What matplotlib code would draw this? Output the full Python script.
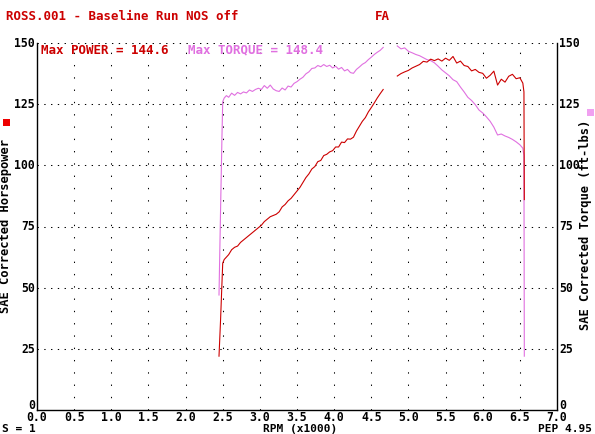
import numpy as np
import matplotlib
matplotlib.use("Agg")
import matplotlib.pyplot as plt
from matplotlib.patches import Rectangle
from matplotlib.transforms import ScaledTranslation

# ---- data (RPM x1000) ----
rpm_a = [2.45, 2.47, 2.49, 2.50, 2.52, 2.55, 2.58, 2.62, 2.66, 2.70, 2.74, 2.78, 2.82, 2.86,
         2.90, 2.94, 2.98, 3.02, 3.06, 3.10, 3.14, 3.18, 3.22, 3.26, 3.30, 3.34, 3.38, 3.42,
         3.46, 3.50, 3.54, 3.58, 3.62, 3.66, 3.70, 3.74, 3.78, 3.82, 3.86, 3.90, 3.94, 3.98,
         4.02, 4.06, 4.10, 4.14, 4.18, 4.22, 4.26, 4.30, 4.34, 4.38, 4.42, 4.46, 4.50, 4.54,
         4.58, 4.62, 4.66]
torque_a = [47, 80, 112, 126, 127.5, 128.5, 127.8, 129.5, 128.6, 129.8, 129.2, 130.0, 129.6, 130.8,
            130.2, 131.0, 131.5, 131.0, 132.6, 131.5, 132.8, 131.2, 130.5, 130.2, 131.6, 130.8, 132.4, 132.0,
            133.5, 134.2, 135.2, 136.0, 137.4, 138.2, 139.6, 139.8, 140.8, 140.3, 141.2, 140.4, 140.9, 139.8,
            140.5, 139.3, 140.0, 138.6, 139.2, 137.9, 137.6, 139.2, 140.2, 141.3, 142.0, 143.2, 144.2, 145.3,
            146.2, 147.0, 148.2]
power_a = [22, 36, 52, 60, 61.5, 62.5, 63.5, 65.5, 66.5, 67, 68.5, 69.5, 70.5, 71.5,
           72.5, 73.5, 74.5, 75.5, 77, 78, 79, 79.5, 80.0, 81, 83, 84, 85.5, 86.5,
           88, 89.5, 91, 93, 95, 96.5, 98.5, 99.5, 101.5, 102, 104, 104.5, 105.5, 106,
           107.5, 107.5, 109.5, 109.3, 110.8, 110.7, 111.5, 114, 116, 118, 119.5, 121.8, 123.6, 125.5,
           127.5, 129.3, 131]

rpm_b = [4.85, 4.90, 4.95, 5.00, 5.05, 5.10, 5.15, 5.20, 5.25, 5.30, 5.35, 5.40, 5.45, 5.50,
         5.55, 5.60, 5.65, 5.70, 5.75, 5.80, 5.85, 5.90, 5.95, 6.00, 6.05, 6.10, 6.15, 6.20,
         6.25, 6.30, 6.35, 6.40, 6.45, 6.50, 6.54, 6.555, 6.56]
torque_b = [148.8, 147.6, 148.0, 146.6, 146.0, 145.3, 144.8, 144.0, 143.2, 142.8, 141.9, 140.5, 139.0, 137.8,
            136.6, 135.0, 134.2, 132.0, 130.0, 127.8, 126.5, 124.8, 122.6, 121.4, 119.8, 118.0, 115.6, 112.4,
            112.8, 112.0, 111.4, 110.6, 109.6, 108.4, 107.0, 104, 22]
power_b = [136.5, 137.5, 138.2, 138.8, 139.8, 140.5, 141.2, 142.5, 142.2, 143.4, 142.8, 143.5, 142.6, 143.8,
           142.9, 144.5, 141.8, 142.6, 140.8, 140.4, 138.6, 139.2, 138.0, 137.6, 135.6, 136.8, 138.5, 132.8,
           135.2, 134.0, 136.4, 137.2, 135.4, 135.8, 133.6, 130, 86]

x_ticks = [0.0, 0.5, 1.0, 1.5, 2.0, 2.5, 3.0, 3.5, 4.0, 4.5, 5.0, 5.5, 6.0, 6.5, 7.0]
y_ticks = [0, 25, 50, 75, 100, 125, 150]

RED = "#cc0000"
PINK = "#e070e0"
FONT = "DejaVu Sans Mono"
FS = 8.7
TFS = 8.3
BFS = 8.0

fig = plt.figure(figsize=(5.95, 4.35), dpi=100)
ax = fig.add_axes([37/595, 1-411/435, (557-37)/595, (411-44)/435])
ax.set_xlim(0, 7)
ax.set_ylim(0, 150)

# grid
for y in y_ticks[1:]:
    ax.plot([0, 7], [y, y], color="black", lw=0.75, ls=(0, (1.3, 5.2)), zorder=1)
for x in x_ticks[1:-1]:
    ax.plot([x, x], [0, 150], color="black", lw=0.75, ls=(0, (1.3, 10.5)), zorder=1)

# curves (gap between segments)
rpm = rpm_a + [np.nan] + rpm_b
tq = torque_a + [np.nan] + torque_b
hp = power_a + [np.nan] + power_b
ax.plot(rpm, tq, color=PINK, lw=0.8, zorder=3)
ax.plot(rpm, hp, color=RED, lw=0.8, zorder=4)

ax.spines["top"].set_visible(False)
for s in ["left", "right", "bottom"]:
    ax.spines[s].set_linewidth(1.0)

ax.set_xticks(x_ticks)
ax.set_xticklabels([f"{v:.1f}" for v in x_ticks], fontsize=TFS, family=FONT, fontweight="bold")
ax.set_yticks(y_ticks)
ax.set_yticklabels([str(v) for v in y_ticks], fontsize=TFS, family=FONT, fontweight="bold")
ax.tick_params(axis="x", length=0, pad=0)
ax.tick_params(axis="y", length=0, pad=1.5, labelright=True, right=False)

# texts
fig.text(6/595, 1-17/435, "ROSS.001 - Baseline Run NOS off", color=RED, fontsize=9,
         family=FONT, fontweight="bold", va="center", ha="left")
fig.text(375/595, 1-17/435, "FA", color=RED, fontsize=9, family=FONT, fontweight="bold",
         va="center", ha="left")
fig.text(41/595, 1-50/435, "Max POWER = 144.6", color=RED, fontsize=9, family=FONT,
         fontweight="bold", va="center", ha="left")
fig.text(188/595, 1-50/435, "Max TORQUE = 148.4", color=PINK, fontsize=9, family=FONT,
         fontweight="bold", va="center", ha="left")

fig.text(6/595, 1-226/435, "SAE Corrected Horsepower", color="black", fontsize=FS, family=FONT,
         fontweight="bold", rotation=90, va="center", ha="center")
fig.text(585.5/595, 1-225/435, "SAE Corrected Torque (ft-lbs)", color="black", fontsize=FS, family=FONT,
         fontweight="bold", rotation=90, va="center", ha="center")
fig.patches.append(Rectangle((3/595, 1-127/435), 7/595, 7/435, transform=fig.transFigure,
                             color="#ee0000", lw=0))
fig.patches.append(Rectangle((587/595, 1-117/435), 7/595, 7/435, transform=fig.transFigure,
                             color="#f0a0f0", lw=0))

fig.text(2/595, 1-429.5/435, "S = 1", color="black", fontsize=BFS, family=FONT, fontweight="bold",
         va="center", ha="left")
fig.text(300/595, 1-429.5/435, "RPM (x1000)", color="black", fontsize=BFS, family=FONT,
         fontweight="bold", va="center", ha="center")
fig.text(592/595, 1-429.5/435, "PEP 4.95", color="black", fontsize=BFS, family=FONT,
         fontweight="bold", va="center", ha="right")

# shift y tick labels slightly up, as in the reference (the "0" labels most)
for t, v in zip(ax.yaxis.get_major_ticks(), y_ticks):
    dy = 6.5 if v == 0 else 2.0
    shift = ScaledTranslation(0, dy/100, fig.dpi_scale_trans)
    t.label1.set_transform(t.label1.get_transform() + shift)
    t.label2.set_transform(t.label2.get_transform() + shift)

fig.savefig("out.png", dpi=100)
